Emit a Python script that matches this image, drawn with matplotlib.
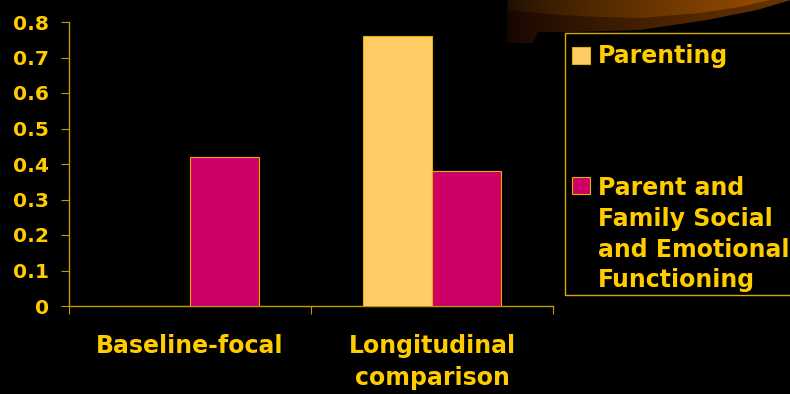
import numpy as np
import matplotlib
matplotlib.use("Agg")
import matplotlib.pyplot as plt
from matplotlib.patches import Rectangle, Polygon

# ---- data ----
categories = ["Baseline-focal", "Longitudinal\ncomparison"]
series_names = ["Parenting", "Parent and\nFamily Social\nand Emotional\nFunctioning"]
parenting = [0.0, 0.76]
family_functioning = [0.42, 0.38]
y_ticks = [0, 0.1, 0.2, 0.3, 0.4, 0.5, 0.6, 0.7, 0.8]

# ---- style ----
W, H = 790, 394
BG = "#000000"
GOLD = "#FFCC00"
AXIS = "#C09A00"
C_PARENT = "#FFCC66"
C_FAMILY = "#CC0066"
plt.rcParams["font.family"] = ["DejaVu Sans"]
plt.rcParams["font.weight"] = "bold"

fig = plt.figure(figsize=(W / 100, H / 100), dpi=100, facecolor=BG)


def fx(x):
    return x / W


def fy(y):
    return 1 - y / H


# decorative swoosh in the top-right corner (pixel space canvas)
deco = fig.add_axes([0, 0, 1, 1], zorder=0)
deco.set_xlim(0, W)
deco.set_ylim(H, 0)
deco.axis("off")
deco.set_facecolor(BG)


def gradient_band(edge_pts, x0, x1, rgb_end, rgb_start=(0, 0, 0), gamma=1.0):
    verts = [(x0, -1)] + edge_pts + [(x1, -1)]
    poly = Polygon(verts, closed=True, facecolor="none", edgecolor="none")
    deco.add_patch(poly)
    t = np.linspace(0, 1, 256)[None, :]
    grad = np.zeros((2, 256, 3))
    for k in range(3):
        grad[:, :, k] = (rgb_start[k] + (rgb_end[k] - rgb_start[k]) * t ** gamma) / 255
    im = deco.imshow(grad, extent=(x0, x1, 50, -1), aspect="auto",
                     interpolation="bilinear", zorder=1)
    im.set_clip_path(poly)


# lower, darker band
gradient_band([(507, 43), (533, 43), (538, 32), (570, 32), (640, 30),
               (707, 20), (757, 10), (791, 0)], 507, 791,
              (105, 52, 0), rgb_start=(22, 6, 2), gamma=0.8)
# upper, brighter band
gradient_band([(508, 10), (560, 15), (600, 17), (640, 18), (700, 13),
               (740, 7), (774, -1)], 508, 774,
              (150, 76, 2), rgb_start=(30, 14, 0), gamma=0.75)

# ---- main axes ----
L, R, T, B = 69, 553, 22, 306
ax = fig.add_axes([fx(L), fy(B), fx(R - L), (B - T) / H], zorder=2)
ax.set_facecolor("none")

n = len(categories)
centers = np.arange(n) + 0.5
bw = 69 / 242
ax.bar(centers - bw / 2, parenting, width=bw, color=C_PARENT,
       edgecolor="#E6B000", linewidth=0.8, zorder=3)
ax.bar(centers + bw / 2, family_functioning, width=bw, color=C_FAMILY,
       edgecolor="#E6B000", linewidth=0.8, zorder=3)

ax.set_xlim(0, n)
ax.set_ylim(0, 0.8)
ax.set_yticks(y_ticks)
ax.set_yticklabels([f"{v:g}" for v in y_ticks])

ax.set_xticks(np.arange(n + 1))
ax.set_xticklabels([])
ax.set_xticks(centers, minor=True)
ax.set_xticklabels(categories, minor=True, linespacing=1.45)

for s in ("top", "right"):
    ax.spines[s].set_visible(False)
for s in ("left", "bottom"):
    ax.spines[s].set_color(AXIS)
    ax.spines[s].set_linewidth(1.0)

ax.tick_params(axis="y", direction="out", length=5.8, width=0.8, color=AXIS,
               labelcolor=GOLD, labelsize=14.6, pad=8.6)
ax.tick_params(axis="x", which="major", direction="out", length=5.8,
               width=0.8, color=AXIS)
ax.tick_params(axis="x", which="minor", length=0, labelcolor=GOLD,
               labelsize=17, pad=20)
for lab in ax.get_yticklabels() + ax.get_xticklabels(minor=True):
    lab.set_fontweight("bold")

# ---- legend ----
fig.patches.append(Rectangle((fx(565), fy(295)), fx(240), (295 - 33) / H,
                             transform=fig.transFigure, facecolor="none",
                             edgecolor="#D4AA00", linewidth=1.0, zorder=4))

legend_rows = [(C_PARENT, 47, [63]), (C_FAMILY, 177, [195, 226, 257, 287])]
for (col, sq_top, baselines), name in zip(legend_rows, series_names):
    fig.patches.append(Rectangle((fx(572), fy(sq_top + 17)), fx(18), 17 / H,
                                 transform=fig.transFigure, facecolor=col,
                                 edgecolor="#E6B000", linewidth=0.8, zorder=5))
    for line, base in zip(name.split("\n"), baselines):
        fig.text(fx(598), fy(base), line, color=GOLD, fontsize=17,
                 fontweight="bold", va="baseline", ha="left", zorder=5)

fig.savefig("out.png", dpi=100, facecolor=BG)
